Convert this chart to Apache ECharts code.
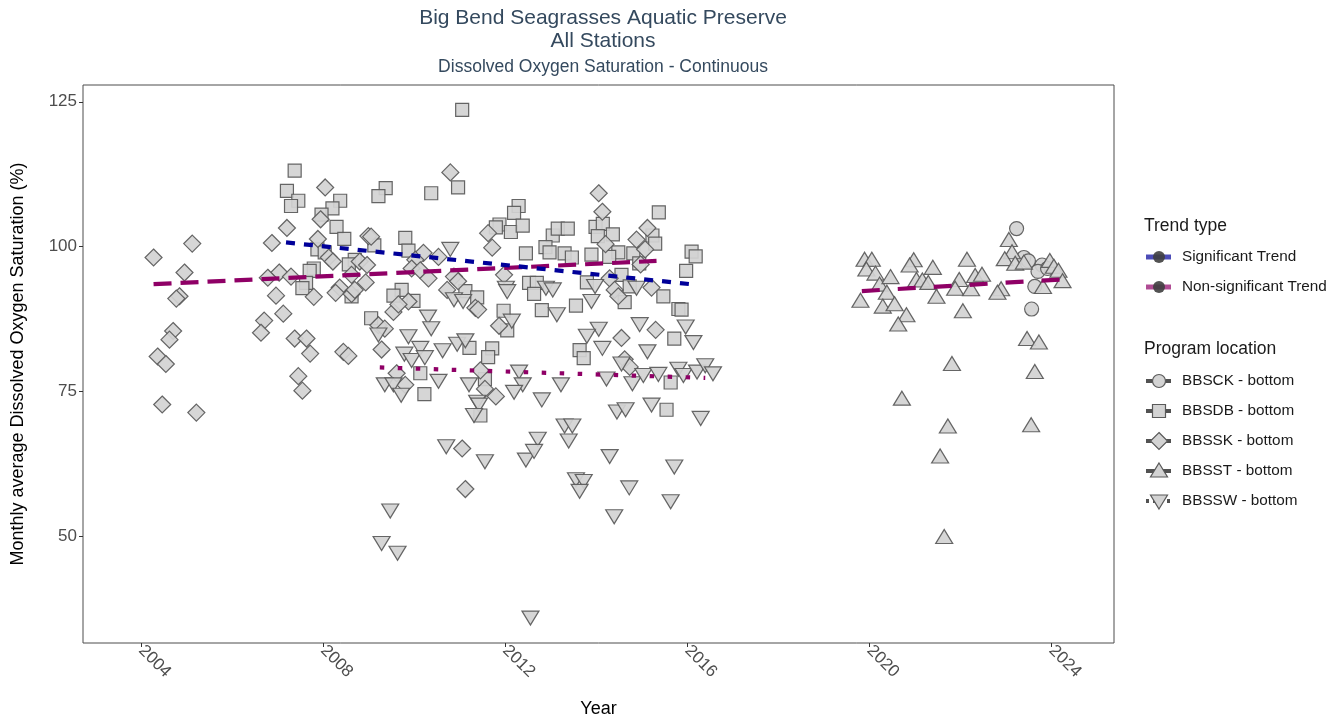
<!DOCTYPE html>
<html>
<head>
<meta charset="utf-8">
<script src="https://cdn.jsdelivr.net/npm/echarts@6/dist/echarts.min.js"></script>
<style>
  html, body { margin: 0; padding: 0; background: #fff; }
  #chart { width: 1340px; height: 723px; }
</style>
</head>
<body>
<div id="chart"></div>
<script>
// Monthly average dissolved oxygen saturation (%) by program location: [decimal year, value]
const BBSCK = [
  [2023.23,103.1],[2023.39,98.1],[2023.49,97.5],[2023.79,96.8],[2023.70,95.7],
  [2023.63,93.1],[2023.56,89.2],[2023.91,96.2]
];

const BBSDB = [
  [2007.37,113.1],[2007.20,109.6],[2007.45,107.9],[2007.29,107.0],[2008.37,107.9],
  [2008.20,106.6],[2007.96,105.5],[2008.29,103.4],[2008.46,101.3],[2007.87,99.5],
  [2008.03,99.0],[2008.69,97.7],[2008.56,96.9],[2007.79,96.2],[2007.70,95.8],
  [2007.62,93.7],[2007.54,92.8],[2008.62,91.4],[2009.05,87.6],[2011.05,123.6],
  [2010.96,110.2],[2009.37,110.1],[2009.21,108.7],[2010.37,109.2],[2012.29,107.0],
  [2012.19,105.8],[2011.87,103.8],[2011.79,103.3],[2012.12,102.5],[2012.38,103.6],
  [2012.45,98.8],[2009.80,101.5],[2009.12,100.2],[2009.87,99.3],[2009.72,92.5],
  [2009.54,91.5],[2009.98,90.6],[2011.12,92.3],[2011.38,91.2],[2012.52,93.7],
  [2011.96,88.9],[2012.04,85.5],[2011.21,82.5],[2011.71,82.4],[2011.62,80.9],
  [2010.13,78.1],[2010.22,74.5],[2011.55,77.1],[2011.45,70.8],[2015.37,105.9],
  [2013.04,101.9],[2013.15,103.1],[2013.37,103.1],[2012.88,99.9],[2012.97,99.0],
  [2013.30,98.8],[2013.46,98.1],[2013.98,103.4],[2014.14,103.9],[2014.36,102.1],
  [2014.03,101.8],[2013.89,98.6],[2014.48,99.0],[2014.28,98.2],[2015.23,101.9],
  [2015.29,100.5],[2014.81,98.8],[2014.94,97.1],[2016.09,99.1],[2016.18,98.3],
  [2015.97,95.8],[2012.69,93.7],[2012.63,91.8],[2013.79,93.8],[2014.62,90.4],
  [2014.55,95.1],[2014.73,93.1],[2015.47,91.4],[2015.80,89.2],[2015.87,89.1],
  [2012.80,89.0],[2013.55,89.8],[2015.71,84.1],[2013.63,82.1],[2013.72,80.7],
  [2015.63,76.5],[2015.54,71.8]
];

const BBSSK = [
  [2004.27,98.1],[2005.12,100.5],[2004.95,95.5],[2004.84,91.4],[2004.77,91.0],
  [2004.70,85.4],[2004.62,83.9],[2004.36,81.0],[2004.54,79.7],[2004.46,72.7],
  [2005.21,71.3],[2008.04,110.2],[2007.20,103.2],[2006.87,100.6],[2007.94,104.7],
  [2007.88,101.3],[2008.12,98.1],[2008.21,97.4],[2008.99,101.8],[2008.80,97.4],
  [2008.96,96.8],[2007.03,95.5],[2007.29,94.8],[2006.78,94.6],[2006.96,91.5],
  [2007.79,91.3],[2008.36,92.9],[2008.27,92.0],[2008.62,91.8],[2008.69,92.5],
  [2008.93,93.8],[2007.12,88.4],[2006.70,87.2],[2006.63,85.1],[2007.37,84.1],
  [2007.63,84.1],[2007.71,81.5],[2008.44,81.8],[2008.55,81.1],[2007.45,77.6],
  [2007.54,75.1],[2010.79,112.8],[2009.05,101.7],[2011.62,102.3],[2011.71,99.8],
  [2010.20,98.9],[2010.53,98.2],[2008.62,95.1],[2010.02,97.7],[2009.94,96.2],
  [2010.13,95.9],[2010.31,94.5],[2010.87,94.8],[2010.96,94.0],[2009.87,90.5],
  [2010.72,92.5],[2011.34,89.4],[2011.40,89.1],[2011.97,95.1],[2009.21,86.4],
  [2009.35,85.8],[2009.54,88.7],[2009.65,90.0],[2009.28,82.2],[2011.86,86.3],
  [2009.61,78.1],[2009.80,76.1],[2011.45,78.6],[2011.55,75.4],[2011.79,74.1],
  [2011.05,65.1],[2011.12,58.1],[2014.05,109.2],[2014.13,106.0],[2014.20,100.4],
  [2015.12,103.2],[2014.88,101.2],[2015.07,99.5],[2014.97,96.9],[2014.29,94.5],
  [2014.40,92.5],[2014.48,91.4],[2015.21,92.9],[2014.55,84.2],[2015.30,85.6],
  [2014.62,80.5],[2014.73,79.2]
];

const BBSST = [
  [2019.89,97.8],[2020.05,97.8],[2019.93,96.1],[2020.13,95.4],[2020.22,93.5],
  [2020.46,94.8],[2020.38,92.1],[2019.80,90.7],[2020.29,89.7],[2020.55,90.1],
  [2020.81,88.2],[2020.63,86.6],[2020.97,97.7],[2020.88,96.8],[2021.39,96.4],
  [2021.03,94.3],[2021.16,94.2],[2021.29,93.8],[2021.47,91.4],[2022.14,97.8],
  [2021.97,94.3],[2021.88,92.8],[2022.23,92.7],[2022.32,95.0],[2022.47,95.2],
  [2022.05,88.9],[2022.89,92.7],[2022.81,92.1],[2023.06,101.2],[2023.13,99.1],
  [2022.97,97.9],[2023.20,97.1],[2023.39,97.3],[2023.96,97.6],[2024.05,96.6],
  [2024.15,95.9],[2024.24,94.1],[2023.81,93.1],[2023.46,84.1],[2023.72,83.5],
  [2023.63,78.4],[2023.55,69.2],[2021.81,79.8],[2020.71,73.8],[2021.72,69.0],
  [2021.55,63.8],[2021.64,49.9]
];

const BBSSW = [
  [2010.79,99.5],[2012.01,92.8],[2012.04,92.2],[2010.87,90.8],[2011.07,90.5],
  [2012.14,87.1],[2009.21,84.7],[2009.87,84.4],[2010.30,87.8],[2010.37,85.8],
  [2010.13,82.4],[2009.78,81.4],[2009.94,80.3],[2010.23,80.8],[2010.62,82.0],
  [2010.94,83.1],[2011.12,83.7],[2009.35,76.1],[2009.54,76.1],[2009.71,74.3],
  [2010.53,76.7],[2011.20,76.1],[2011.38,73.1],[2011.42,72.6],[2011.31,70.8],
  [2012.30,78.3],[2012.38,76.1],[2012.19,74.8],[2010.70,65.4],[2011.55,62.8],
  [2012.45,63.1],[2009.47,54.3],[2009.28,48.7],[2009.63,47.0],[2012.55,35.8],
  [2012.89,92.8],[2013.04,92.5],[2013.97,93.1],[2013.89,90.5],[2014.88,92.8],
  [2013.13,88.2],[2014.05,85.7],[2013.79,84.5],[2014.13,82.4],[2014.95,86.5],
  [2015.96,86.1],[2016.13,83.4],[2015.12,81.8],[2014.55,79.7],[2013.22,76.1],
  [2012.80,73.5],[2014.22,77.1],[2014.79,76.3],[2015.03,77.7],[2015.36,77.9],
  [2015.80,78.8],[2015.91,77.7],[2016.21,78.3],[2016.39,79.4],[2016.56,78.0],
  [2014.45,71.4],[2014.64,71.8],[2015.21,72.6],[2016.29,70.3],[2013.30,69.0],
  [2013.47,69.0],[2013.39,66.4],[2012.71,66.7],[2012.63,64.6],[2014.29,63.7],
  [2015.71,61.9],[2013.55,59.7],[2013.72,59.4],[2013.63,57.7],[2014.72,58.3],
  [2015.63,55.9],[2014.39,53.3]
];

// Fitted trend segments: [start, end] as [decimal year, value]
const trendBBSSK = [[2004.27,93.5],[2015.32,97.5]];   // non-significant
const trendBBSDB = [[2007.18,100.7],[2016.06,93.5]];  // significant
const trendBBSSW = [[2009.24,79.1],[2016.39,77.3]];   // non-significant
const trendBBSST = [[2019.83,92.3],[2024.20,94.3]];   // non-significant

const xTicks = [2004, 2008, 2012, 2016, 2020, 2024];
const yTicks = [50, 75, 100, 125];

const trendLabels = ['Significant Trend', 'Non-significant Trend'];
const programLabels = ['BBSCK - bottom', 'BBSDB - bottom', 'BBSSK - bottom', 'BBSST - bottom', 'BBSSW - bottom'];

const SIG = '#000099';
const NONSIG = '#8f0066';
const FONT = '"Liberation Sans", Arial, sans-serif';
const pointStyle = { color: '#d3d3d3', borderColor: '#595959', borderWidth: 1.2, opacity: 0.92 };

function pointSeries(name, data, symbol, size, rotate) {
  return {
    name, type: 'scatter', data, symbol, symbolSize: size, symbolRotate: rotate || 0,
    itemStyle: pointStyle, z: 2, silent: true
  };
}
function trendSeries(name, data, color, dash) {
  return {
    name, type: 'line', data, showSymbol: false, symbol: 'none', z: 5, silent: true,
    lineStyle: { color, width: 4.2, type: dash, cap: 'butt' }
  };
}

// Legend built from shapes plus text
const LX = 1144, SX = 1159, TX = 1182;
const legend = [];
function label(x, y, text, size) {
  return { type: 'text', x, y, style: { text, font: size + 'px ' + FONT, fill: '#1a1a1a', verticalAlign: 'middle', align: 'left' } };
}
legend.push(label(LX, 226, 'Trend type', 17.5));
[[SIG, 257], [NONSIG, 287]].forEach(([c, y], i) => {
  legend.push({ type: 'line', shape: { x1: 1146, y1: y, x2: 1171, y2: y }, style: { stroke: c, lineWidth: 5, opacity: 0.7 } });
  legend.push({ type: 'circle', shape: { cx: SX, cy: y, r: 6 }, style: { fill: '#3f3f3f', opacity: 0.9 } });
  legend.push(label(TX, y, trendLabels[i], 15.3));
});
legend.push(label(LX, 349, 'Program location', 17.5));
const dashes = [null, null, null, null, [3, 4]];
[381, 411, 441, 471, 501].forEach((y, i) => {
  legend.push({ type: 'line', shape: { x1: 1146, y1: y, x2: 1171, y2: y }, style: { stroke: '#3f3f3f', lineWidth: 4, lineDash: dashes[i], opacity: 0.9 } });
  let shape;
  const st = { fill: '#d3d3d3', stroke: '#595959', lineWidth: 1.2 };
  if (i === 0) shape = { type: 'circle', shape: { cx: SX, cy: y, r: 6.5 }, style: st };
  else if (i === 1) shape = { type: 'rect', shape: { x: SX - 6.5, y: y - 6.5, width: 13, height: 13 }, style: st };
  else if (i === 2) shape = { type: 'polygon', shape: { points: [[SX, y - 8.5], [SX + 8.5, y], [SX, y + 8.5], [SX - 8.5, y]] }, style: st };
  else if (i === 3) shape = { type: 'polygon', shape: { points: [[SX, y - 8], [SX + 8.5, y + 6], [SX - 8.5, y + 6]] }, style: st };
  else shape = { type: 'polygon', shape: { points: [[SX, y + 8], [SX + 8.5, y - 6], [SX - 8.5, y - 6]] }, style: st };
  legend.push(shape);
  legend.push(label(TX, y, programLabels[i], 15.3));
});

const chart = echarts.init(document.getElementById('chart'), null, { renderer: 'canvas' });
chart.setOption({
  animation: false,
  backgroundColor: '#ffffff',
  textStyle: { fontFamily: FONT },
  title: {
    text: 'Big Bend Seagrasses Aquatic Preserve\nAll Stations',
    subtext: 'Dissolved Oxygen Saturation - Continuous',
    left: 598, top: 2, textAlign: 'center', itemGap: 5,
    textStyle: { fontSize: 21, fontWeight: 'normal', color: '#34495e', lineHeight: 23, fontFamily: FONT },
    subtextStyle: { fontSize: 17.5, color: '#34495e', fontFamily: FONT }
  },
  grid: {
    left: 83, top: 85, right: 226, bottom: 75, containLabel: false,
    show: true, borderColor: '#4d4d4d', borderWidth: 1, backgroundColor: '#ffffff'
  },
  xAxis: {
    type: 'value', min: 2002.72, max: 2025.37,
    name: 'Year', nameLocation: 'middle', nameGap: 57,
    nameTextStyle: { fontSize: 18, color: '#000', fontFamily: FONT },
    axisLine: { show: false },
    splitLine: { show: false },
    axisTick: { show: true, customValues: xTicks, length: 4, lineStyle: { color: '#333' } },
    axisLabel: { customValues: xTicks, formatter: v => String(v), rotate: -45, fontSize: 17, color: '#4d4d4d', margin: 5, fontFamily: FONT }
  },
  yAxis: {
    type: 'value', min: 31.5, max: 127.9,
    name: 'Monthly average Dissolved Oxygen Saturation (%)', nameLocation: 'middle', nameGap: 56,
    nameTextStyle: { fontSize: 18, color: '#000', fontFamily: FONT },
    axisLine: { show: false },
    splitLine: { show: false },
    axisTick: { show: true, customValues: yTicks, length: 4, lineStyle: { color: '#333' } },
    axisLabel: { customValues: yTicks, fontSize: 17, color: '#4d4d4d', margin: 6, fontFamily: FONT }
  },
  series: [
    pointSeries('BBSCK - bottom', BBSCK, 'circle', 14),
    pointSeries('BBSDB - bottom', BBSDB, 'rect', 13),
    pointSeries('BBSSK - bottom', BBSSK, 'diamond', 17),
    pointSeries('BBSST - bottom', BBSST, 'triangle', [17, 14]),
    pointSeries('BBSSW - bottom', BBSSW, 'triangle', [17, 14], 180),
    trendSeries('BBSSK trend', trendBBSSK, NONSIG, [18, 9]),
    trendSeries('BBSDB trend', trendBBSDB, SIG, [9, 9]),
    trendSeries('BBSSW trend', trendBBSSW, NONSIG, [4.5, 13.5]),
    trendSeries('BBSST trend', trendBBSST, NONSIG, [18, 18])
  ],
  graphic: legend
});
</script>
</body>
</html>
